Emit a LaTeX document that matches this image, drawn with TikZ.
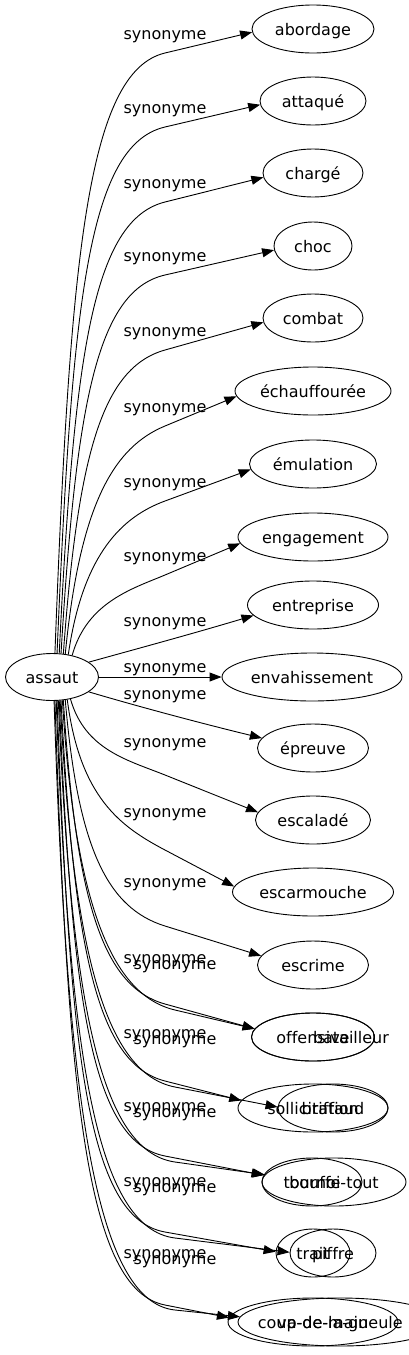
\documentclass[tikz,border=0pt]{standalone}
\usepackage{fontspec}
\setmainfont{DejaVu Sans}[Ligatures=NoCommon]
\usetikzlibrary{arrows.meta,calc,shapes.geometric}
\newcommand\synfar[5]{\draw[syn] (assaut.#1) .. controls (#2) and ($(#3)!-#4!(#5)$) .. (#3) -- (#5);}
\begin{document}
\begin{tikzpicture}[x=1pt,y=1pt,
  every node/.style={font=\fontsize{16pt}{19pt}\selectfont, text height=15pt, text depth=3pt, inner sep=0pt},
  word/.style={draw, ellipse, line width=0.9pt, minimum height=48pt},
  syn/.style={draw, line width=0.9pt, -{Triangle[length=12pt,width=9pt]}}]
\useasboundingbox (0,0) rectangle (409,-1355);

\node[word, minimum width=93pt, minimum height=47pt] (assaut) at (52,-677) {assaut};
\node[word, minimum width=122pt] (abordage) at (313,-29) {abordage};
\node[word, minimum width=106pt] (attaque) at (313,-101) {attaqué};
\node[word, minimum width=100pt] (charge) at (313,-173) {chargé};
\node[word, minimum width=78pt] (choc) at (313,-246) {choc};
\node[word, minimum width=100pt] (combat) at (313,-318) {combat};
\node[word, minimum width=156pt] (echauffouree) at (313,-391) {échauffourée};
\node[word, minimum width=127pt] (emulation) at (313,-464) {émulation};
\node[word, minimum width=150pt] (engagement) at (313,-537) {engagement};
\node[word, minimum width=131pt] (entreprise) at (313,-605) {entreprise};
\node[word, minimum width=180pt] (envahissement) at (312,-677) {envahissement};
\node[word, minimum width=111pt] (epreuve) at (313,-748) {épreuve};
\node[word, minimum width=115pt] (escalade) at (313,-820) {escaladé};
\node[word, minimum width=161pt] (escarmouche) at (313,-892) {escarmouche};
\node[word, minimum width=111pt] (escrime) at (313,-965) {escrime};
\node[word, minimum width=123pt] (offensive) at (313,-1037) {offensive};
\node[word, minimum width=123pt] (batailleur) at (313,-1037) {\makebox[0pt][l]{batailleur}};
\node[word, minimum width=150pt] (sollicitation) at (313,-1108) {sollicitation};
\node[word, minimum width=110pt] (briffaud) at (333,-1108) {briffaud};
\node[word, minimum width=100pt] (tournoi) at (312,-1182) {tournoi};
\node[word, minimum width=144pt] (bouffetout) at (334,-1182) {bouffe-tout};
\node[word, minimum width=74pt] (trait) at (313,-1253) {trait};
\node[word, minimum width=86pt] (piffre) at (333,-1253) {piffre};
\node[word, minimum width=170pt] (coupdemain) at (313,-1322) {coup-de-main};
\node[word, minimum width=204pt] (vadelagueule) at (340,-1322) {va-de-la-gueule};

\node (l1) at (165,-33) {synonyme};
\node (l2) at (165,-107) {synonyme};
\node (l3) at (165,-182) {synonyme};
\node (l4) at (165,-255) {synonyme};
\node (l5) at (165,-330) {synonyme};
\node (l6) at (165,-406) {synonyme};
\node (l7) at (165,-481) {synonyme};
\node (l8) at (165,-555) {synonyme};
\node (l9) at (165,-620) {synonyme};
\node (l10) at (165,-666) {synonyme};
\node (l11) at (165,-693) {synonyme};
\node (l12) at (165,-741) {synonyme};
\node (l13) at (165,-811) {synonyme};
\node (l14) at (165,-881) {synonyme};
\node (l15) at (165,-957) {synonyme};
\node (l16) at (175,-963) {synonyme};
\node (l17) at (165,-1032) {synonyme};
\node (l18) at (175,-1038) {synonyme};
\node (l19) at (165,-1105) {synonyme};
\node (l20) at (175,-1111) {synonyme};
\node (l21) at (165,-1180) {synonyme};
\node (l22) at (175,-1186) {synonyme};
\node (l23) at (165,-1252) {synonyme};
\node (l24) at (175,-1258) {synonyme};

\synfar{83}{70,-257}{165,-53}{80pt}{abordage.183}
\synfar{78}{72,-306}{165,-127}{80pt}{attaque.184}
\synfar{73}{74,-356}{165,-202}{75pt}{charge.185}
\synfar{69}{76,-404}{165,-275}{70pt}{choc.186}
\synfar{64}{78,-453}{165,-350}{65pt}{combat.185}
\synfar{60}{80,-503}{165,-426}{55pt}{echauffouree.184}
\synfar{54}{83,-553}{165,-501}{45pt}{emulation.185}
\synfar{47}{87,-602}{165,-575}{35pt}{engagement.185}
\draw[syn] (assaut.22) .. controls (140,-648) and (195,-633) .. (entreprise.190);
\draw[syn] (assaut.east) -- (envahissement.west);
\draw[syn] (assaut.338) .. controls (140,-707) and (200,-723) .. (epreuve.169);
\synfar{310}{85,-750}{165,-775}{40pt}{escalade.172}
\synfar{304}{80,-798}{165,-850}{50pt}{escarmouche.176}
\synfar{300}{78,-849}{165,-926}{60pt}{escrime.170}
\synfar{296}{76,-901}{165,-1004}{65pt}{offensive.172}
\synfar{294}{75,-905}{175,-1010}{65pt}{batailleur.172}
\synfar{291}{74,-951}{165,-1081}{70pt}{sollicitation.174}
\synfar{289}{73,-955}{175,-1087}{70pt}{briffaud.179}
\synfar{287}{72,-1001}{165,-1156}{75pt}{tournoi.172}
\synfar{285}{71,-1005}{175,-1162}{75pt}{bouffetout.174}
\synfar{282}{70,-1051}{165,-1232}{80pt}{trait.178}
\synfar{280}{69,-1055}{175,-1238}{80pt}{piffre.179}
\synfar{277}{68,-1099}{165,-1305}{80pt}{coupdemain.177}
\synfar{275}{67,-1103}{175,-1310}{80pt}{vadelagueule.177}
\end{tikzpicture}
\end{document}
